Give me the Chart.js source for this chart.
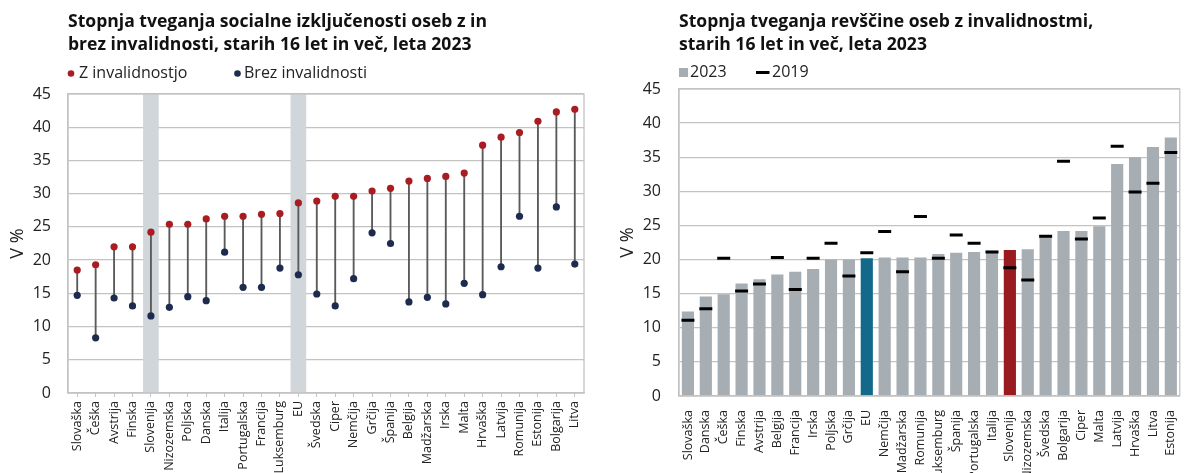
<!DOCTYPE html>
<html>
<head>
<meta charset="utf-8">
<script src="https://cdn.jsdelivr.net/npm/chart.js@4.4.1/dist/chart.umd.min.js"></script>
<style>
  html, body { margin: 0; padding: 0; background: #ffffff; }
  #wrap { position: relative; width: 1192px; height: 473px; overflow: hidden; }
  .box { position: absolute; top: 0; width: 596px; height: 473px; }
</style>
</head>
<body>
<div id="wrap">
  <div class="box" style="left:0"><canvas id="c1"></canvas></div>
  <div class="box" style="left:596px"><canvas id="c2"></canvas></div>
</div>
<script>
// ---------- DATA ----------
const leftTitle = ['Stopnja tveganja socialne izključenosti oseb z in', 'brez invalidnosti, starih 16 let in več, leta 2023'];
const leftSeriesNames = ['Z invalidnostjo', 'Brez invalidnosti'];
const leftCategories = ['Slovaška','Češka','Avstrija','Finska','Slovenija','Nizozemska','Poljska','Danska','Italija','Portugalska','Francija','Luksemburg','EU','Švedska','Ciper','Nemčija','Grčija','Španija','Belgija','Madžarska','Irska','Malta','Hrvaška','Latvija','Romunija','Estonija','Bolgarija','Litva'];
const withDisability = [18.5,19.3,22.0,22.0,24.2,25.4,25.4,26.2,26.6,26.6,26.9,27.0,28.6,28.9,29.6,29.6,30.4,30.8,31.9,32.3,32.6,33.1,37.3,38.5,39.2,40.9,42.3,42.7];
const withoutDisability = [14.7,8.3,14.3,13.1,11.6,12.9,14.5,13.9,21.2,15.9,15.9,18.8,17.8,14.9,13.1,17.2,24.1,22.5,13.7,14.4,13.4,16.5,14.8,19.0,26.6,18.8,28.0,19.4];
const leftHighlighted = ['Slovenija', 'EU'];

const rightTitle = ['Stopnja tveganja revščine oseb z invalidnostmi,', 'starih 16 let in več, leta 2023'];
const rightSeriesNames = ['2023', '2019'];
const rightCategories = ['Slovaška','Danska','Češka','Finska','Avstrija','Belgija','Francija','Irska','Poljska','Grčija','EU','Nemčija','Madžarska','Romunija','Luksemburg','Španija','Portugalska','Italija','Slovenija','Nizozemska','Švedska','Bolgarija','Ciper','Malta','Latvija','Hrvaška','Litva','Estonija'];
const values2023 = [12.4,14.6,14.9,16.5,17.1,17.8,18.2,18.6,20.0,20.0,20.2,20.3,20.3,20.3,20.8,21.0,21.1,21.3,21.4,21.5,23.5,24.2,24.2,24.9,34.0,35.0,36.5,37.9];
const values2019 = [11.1,12.8,20.2,15.4,16.4,20.3,15.6,20.2,22.4,17.6,21.0,24.1,18.2,26.3,20.2,23.6,22.4,21.1,18.8,17.0,23.4,34.4,23.0,26.1,36.6,29.9,31.2,35.7];

const yTicks = [0,5,10,15,20,25,30,35,40,45];
const yAxisTitle = 'V %';

// ---------- STYLE ----------
const FONT = '"Open Sans", "Noto Sans", sans-serif';
const TEXT = '#222222';
const GRID = '#c3c3c3';
const RED = '#a81c22';
const NAVY = '#1d2b4f';
const BAND = '#d1d6da';
const BAR = '#a6adb3';
const EU_COL = '#13698a';
const SI_COL = '#9a1b1f';

Chart.defaults.font.family = FONT;
Chart.defaults.color = TEXT;
Chart.defaults.animation = false;

const TITLE_SCALE_TARGET = 419; // width of first title line in px

function drawTitle(ctx, lines, x) {
  ctx.save();
  ctx.font = 'bold 18px ' + FONT;
  const base = ctx.measureText(leftTitle[0]).width;
  const sx = TITLE_SCALE_TARGET / base;
  ctx.fillStyle = '#111111';
  ctx.textBaseline = 'alphabetic';
  ctx.textAlign = 'left';
  const ys = [27, 49.5];
  lines.forEach((t, i) => {
    ctx.save();
    ctx.translate(x, ys[i]);
    ctx.scale(sx, 1);
    ctx.fillText(t, 0, 0);
    ctx.restore();
  });
  ctx.restore();
}

function legendText(ctx, t, x, y, maxW) {
  ctx.font = '16px ' + FONT;
  ctx.fillStyle = TEXT;
  ctx.textBaseline = 'middle';
  ctx.textAlign = 'left';
  ctx.fillText(t, x, y, maxW);
}

function frame(chart) {
  const { ctx, chartArea: a } = chart;
  ctx.save();
  ctx.strokeStyle = GRID;
  ctx.lineWidth = 1.3;
  ctx.strokeRect(a.left, a.top, a.right - a.left, a.bottom - a.top);
  ctx.restore();
}

const leftDecor = {
  id: 'leftDecor',
  afterDraw(chart) {
    const { ctx, chartArea: a } = chart;
    frame(chart);
    drawTitle(ctx, leftTitle, a.left);
    const ly = 73.5;
    ctx.save();
    ctx.fillStyle = RED;
    ctx.beginPath(); ctx.arc(a.left + 3, ly, 3.3, 0, Math.PI * 2); ctx.fill();
    legendText(ctx, leftSeriesNames[0], a.left + 11, ly, 115);
    ctx.fillStyle = NAVY;
    ctx.beginPath(); ctx.arc(a.left + 169.5, ly, 3.3, 0, Math.PI * 2); ctx.fill();
    legendText(ctx, leftSeriesNames[1], a.left + 176, ly, 124);
    ctx.restore();
  }
};

const rightDecor = {
  id: 'rightDecor',
  afterDraw(chart) {
    const { ctx, chartArea: a } = chart;
    frame(chart);
    drawTitle(ctx, rightTitle, a.left);
    const ly = 72.5;
    ctx.save();
    ctx.fillStyle = BAR;
    ctx.fillRect(a.left, ly - 4.5, 9, 9);
    legendText(ctx, rightSeriesNames[0], a.left + 11, ly, 41);
    ctx.fillStyle = '#000000';
    ctx.fillRect(a.left + 77, ly - 1.5, 13.5, 3);
    legendText(ctx, rightSeriesNames[1], a.left + 93, ly, 40);
    ctx.restore();
  }
};

function yScale(width, pad, titlePad) {
  return {
    min: 0, max: 45,
    afterBuildTicks(s) { s.ticks = yTicks.map(v => ({ value: v })); },
    afterFit(s) { s.width = width; },
    grid: { color: GRID, lineWidth: 1.3, drawTicks: false },
    border: { display: true, color: GRID, width: 1.3 },
    ticks: { padding: pad, font: { size: 16, family: FONT }, color: TEXT },
    title: { display: true, text: yAxisTitle, font: { size: 18, family: FONT }, color: TEXT, padding: { top: titlePad, bottom: 0 } }
  };
}

// ---------- LEFT CHART ----------
new Chart(document.getElementById('c1'), {
  type: 'bar',
  data: {
    labels: leftCategories,
    datasets: [
      {
        type: 'line', label: leftSeriesNames[0], data: withDisability,
        showLine: false, pointRadius: 3.6, pointHoverRadius: 3.6,
        pointBackgroundColor: RED, pointBorderWidth: 0, borderColor: RED, order: 0
      },
      {
        type: 'line', label: leftSeriesNames[1], data: withoutDisability,
        showLine: false, pointRadius: 3.6, pointHoverRadius: 3.6,
        pointBackgroundColor: NAVY, pointBorderWidth: 0, borderColor: NAVY, order: 0
      },
      {
        type: 'bar', label: 'range', data: leftCategories.map((c, i) => [withoutDisability[i], withDisability[i]]),
        backgroundColor: '#5a5a5a', barThickness: 1.2, grouped: false, order: 1
      },
      {
        type: 'bar', label: 'band', data: leftCategories.map(c => leftHighlighted.includes(c) ? 45 : null),
        backgroundColor: BAND, barPercentage: 0.85, categoryPercentage: 1, grouped: false, order: 2
      }
    ]
  },
  options: {
    responsive: true, maintainAspectRatio: false,
    layout: { padding: { top: 94, right: 12, left: 0, bottom: 0 } },
    plugins: { legend: { display: false }, title: { display: false }, tooltip: { enabled: false } },
    scales: {
      x: {
        afterFit(s) { s.height = 80; },
        grid: { display: true, drawOnChartArea: false, drawTicks: true, tickLength: 4, color: GRID, offset: false },
        border: { display: true, color: GRID, width: 1.3 },
        ticks: { minRotation: 90, maxRotation: 90, autoSkip: false, padding: 4, font: { size: 12.5, family: FONT }, color: TEXT }
      },
      y: yScale(68, 17, 7)
    }
  },
  plugins: [leftDecor]
});

// ---------- RIGHT CHART ----------
new Chart(document.getElementById('c2'), {
  type: 'bar',
  data: {
    labels: rightCategories,
    datasets: [
      {
        type: 'line', label: rightSeriesNames[1], data: values2019,
        showLine: false, pointStyle: 'line', pointRadius: 6.5, pointHoverRadius: 6.5,
        pointBorderWidth: 3, borderColor: '#000000', pointBorderColor: '#000000', order: 0
      },
      {
        type: 'bar', label: rightSeriesNames[0], data: values2023,
        backgroundColor: rightCategories.map(c => c === 'EU' ? EU_COL : (c === 'Slovenija' ? SI_COL : BAR)),
        barPercentage: 0.68, categoryPercentage: 1, grouped: false, order: 1
      }
    ]
  },
  options: {
    responsive: true, maintainAspectRatio: false,
    layout: { padding: { top: 89, right: 2, left: 0, bottom: 0 } },
    plugins: { legend: { display: false }, title: { display: false }, tooltip: { enabled: false } },
    scales: {
      x: {
        afterFit(s) { s.height = 77; },
        grid: { display: false },
        border: { display: true, color: GRID, width: 1.3 },
        ticks: { minRotation: 90, maxRotation: 90, autoSkip: false, padding: 6, font: { size: 12.5, family: FONT }, color: TEXT }
      },
      y: yScale(83, 18, 21)
    }
  },
  plugins: [rightDecor]
});
</script>
</body>
</html>
